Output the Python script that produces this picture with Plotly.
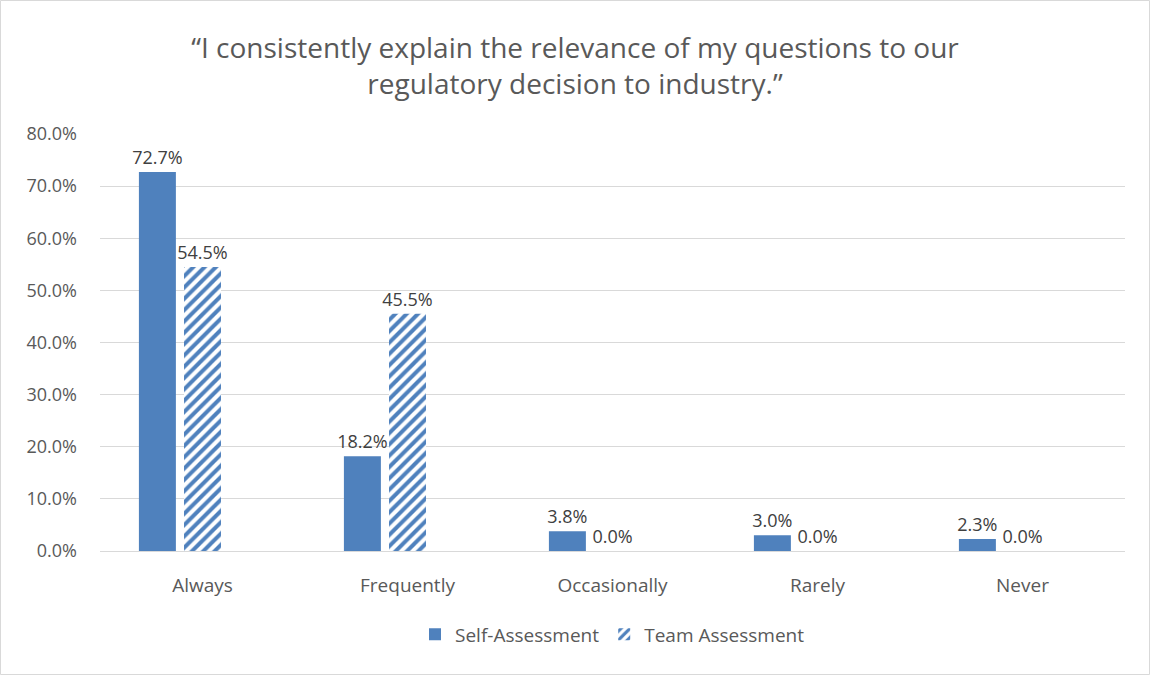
import plotly.graph_objects as go

categories = ["Always", "Frequently", "Occasionally", "Rarely", "Never"]
self_vals = [0.727, 0.182, 0.038, 0.030, 0.023]
team_vals = [0.545, 0.455, 0.0, 0.0, 0.0]
title_lines = ["\u201cI consistently explain the relevance of my questions to our",
               "regulatory decision to industry.\u201d"]

W, H = 1150, 675
ML, MR, MT, MB = 100, 25, 134, 124
BLUE = "#4F81BD"
GRAY = "#595959"
FONT = "Open Sans"

fig = go.Figure()
fig.add_trace(go.Bar(
    x=categories, y=self_vals, name="Self-Assessment",
    marker=dict(color=BLUE, line=dict(width=0)),
    text=[f"{v*100:.1f}%" for v in self_vals], textposition="outside",
    constraintext="none",
    textfont=dict(size=18, color="#404040", family=FONT), cliponaxis=False,
))
fig.add_trace(go.Bar(
    x=categories, y=team_vals, name="Team Assessment",
    marker=dict(color="white", line=dict(width=0),
                pattern=dict(shape="/", fgcolor=BLUE, bgcolor="white", fgopacity=1,
                             size=8, solidity=0.5)),
    text=[f"{v*100:.1f}%" for v in team_vals], textposition="outside",
    constraintext="none",
    textfont=dict(size=18, color="#404040", family=FONT), cliponaxis=False,
))
fig.add_trace(go.Bar(
    x=categories, y=[None]*len(categories), showlegend=False, hoverinfo="skip",
    marker=dict(color="rgba(0,0,0,0)"),
))

fig.update_layout(
    width=W, height=H,
    margin=dict(l=ML, r=MR, t=MT, b=MB),
    paper_bgcolor="white", plot_bgcolor="white",
    barmode="group", bargap=0.34, bargroupgap=0.18,
    font=dict(family=FONT, color=GRAY, size=18),
    title=dict(text="<br>".join(title_lines), x=0.5, xanchor="center",
               y=1 - 58/H, yanchor="middle",
               font=dict(size=28, color=GRAY, family=FONT)),
    legend=dict(orientation="h", x=0.5, xanchor="center", y=-0.2, yanchor="middle",
                font=dict(size=19, color=GRAY, family=FONT), traceorder="normal"),
    showlegend=True,
)
fig.update_yaxes(range=[0, 0.8], dtick=0.1, tickformat=".1%", showgrid=True,
                 gridcolor="#D9D9D9", gridwidth=1, zeroline=False, showline=False,
                 ticks="", ticklabelstandoff=22, tickfont=dict(size=18, color=GRAY))
fig.update_xaxes(showline=True, linecolor="#D9D9D9", linewidth=1, ticks="",
                 ticklabelstandoff=17, tickfont=dict(size=19, color=GRAY))

pw, ph = W - ML - MR, H - MT - MB
fig.add_shape(type="rect", xref="paper", yref="paper",
              x0=(0.5 - ML)/pw, x1=(W - 0.5 - ML)/pw,
              y0=(0.5 - MB)/ph, y1=(H - 0.5 - MB)/ph,
              line=dict(color="#D9D9D9", width=1), fillcolor="rgba(0,0,0,0)", layer="below")

fig.write_html("out.html")
